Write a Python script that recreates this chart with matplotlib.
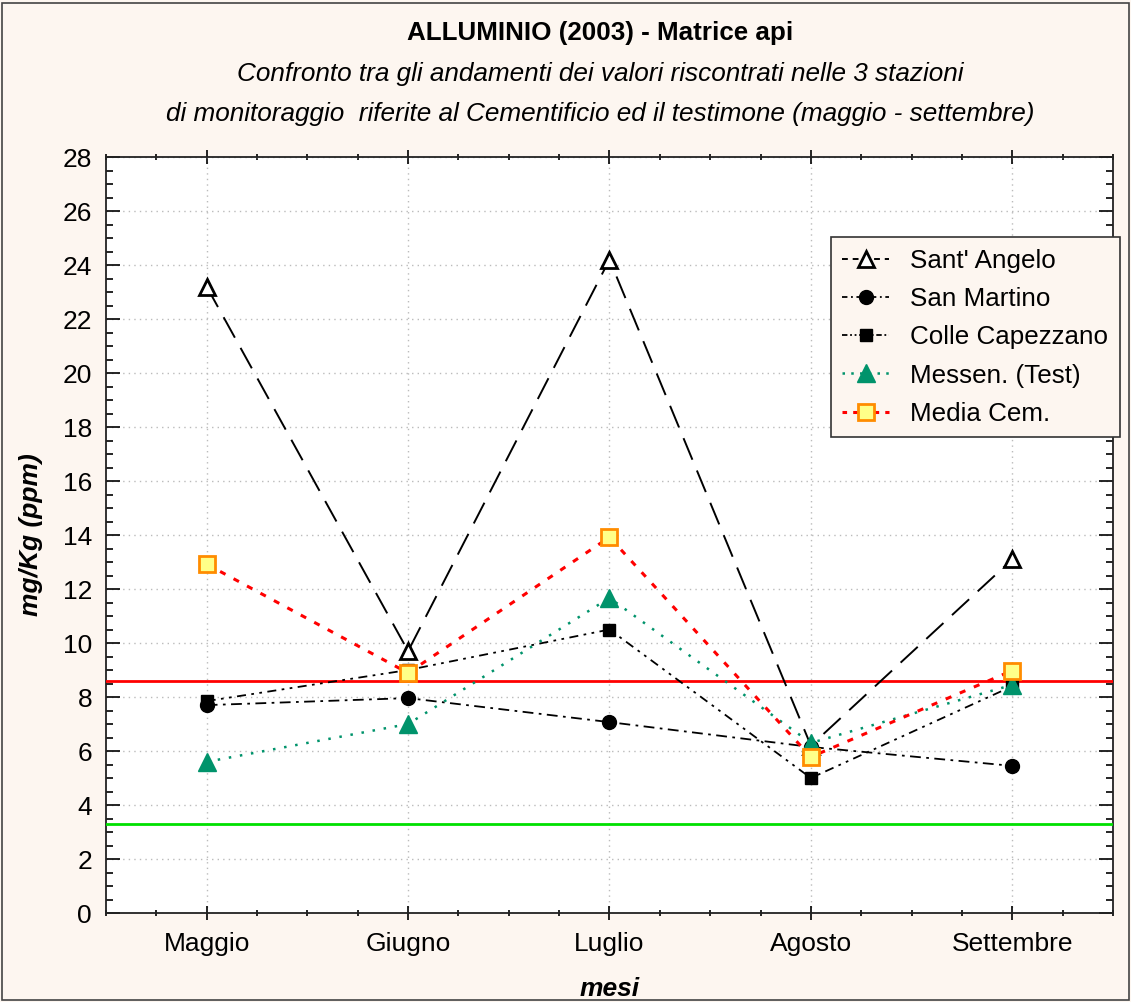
import matplotlib.pyplot as plt
from matplotlib.lines import Line2D
from matplotlib.patches import Rectangle
from matplotlib.ticker import MultipleLocator

# mesi di campionamento
months = ["Maggio", "Giugno", "Luglio", "Agosto", "Settembre"]

# valori mg/Kg (ppm)
sant_angelo = [23.2, 9.7, 24.2, 6.2, 13.1]
san_martino = [7.7, 7.96, 7.07, 6.15, 5.45]
colle_capezzano = [7.85, 9.0, 10.5, 5.0, 8.4]
messen_test = [5.6, 7.0, 11.67, 6.3, 8.45]
media_cem = [12.92, 8.89, 13.92, 5.78, 8.98]

# linee di riferimento
red_level = 8.6
green_level = 3.3

plt.rcParams['font.family'] = ['Liberation Sans', 'DejaVu Sans']

bg = '#FDF6F0'
green = '#00936B'
fig = plt.figure(figsize=(11.31, 10.02), dpi=100, facecolor=bg)
fig.patches.append(Rectangle((0.002, 0.002), 0.996, 0.995, transform=fig.transFigure,
                             fill=False, edgecolor='#444444', linewidth=1.2))
ax = fig.add_axes([0.0937, 0.0888, 0.8904, 0.7545])
ax.set_facecolor('white')

x = list(range(len(months)))

styles = {
    "sa": dict(color='black', linestyle=(0, (12, 6)), linewidth=1.4, marker='^', markersize=11,
               markerfacecolor='white', markeredgecolor='black', markeredgewidth=2),
    "sm": dict(color='black', linestyle=(0, (6, 3, 1.5, 3)), linewidth=1.3, marker='o',
               markersize=10, markerfacecolor='black'),
    "cc": dict(color='black', linestyle=(0, (5, 3, 1.5, 3, 1.5, 3)), linewidth=1.3, marker='s',
               markersize=8, markerfacecolor='black'),
    "me": dict(color=green, linestyle=(0, (1, 3.5)), linewidth=1.8, marker='^', markersize=13,
               markerfacecolor=green, markeredgecolor=green),
    "mc": dict(color='#FF0000', linestyle=(0, (2, 3)), linewidth=2.2, marker='s', markersize=12,
               markerfacecolor='#FFFF88', markeredgecolor='#FF8C00', markeredgewidth=2),
}

ax.plot(x, sant_angelo, zorder=5, **styles["sa"])
ax.plot(x, san_martino, zorder=4, **styles["sm"])
ax.plot(x, colle_capezzano, zorder=4, **styles["cc"])
ax.plot(x, messen_test, zorder=5, **styles["me"])
ax.plot(x, media_cem, zorder=6, **styles["mc"])

ax.axhline(red_level, color='#FF0000', linewidth=2, zorder=3)
ax.axhline(green_level, color='#00E000', linewidth=2, zorder=3)

ax.set_xlim(-0.5, 4.5)
ax.set_ylim(0, 28)
ax.set_xticks(x)
ax.set_xticklabels(months)
ax.yaxis.set_major_locator(MultipleLocator(2))
ax.yaxis.set_minor_locator(MultipleLocator(0.5))
ax.xaxis.set_minor_locator(MultipleLocator(0.25))
ax.tick_params(axis='both', which='both', direction='in', top=True, right=True,
               labelsize=19, width=1.2)
ax.tick_params(axis='both', which='major', length=10)
ax.tick_params(axis='both', which='minor', length=5)
ax.tick_params(axis='y', which='major', pad=10)
ax.tick_params(axis='x', which='both', direction='inout', pad=9)
ax.grid(True, which='major', color='#BBBBBB', linestyle=(0, (1, 3)), linewidth=1)
for s in ax.spines.values():
    s.set_linewidth(1.3)
    s.set_color('#222222')

ax.set_ylabel("mg/Kg (ppm)", fontsize=19, fontweight='bold', fontstyle='italic', labelpad=14)
ax.set_xlabel("mesi", fontsize=19, fontweight='bold', fontstyle='italic', labelpad=15)

fig.text(0.531, 0.967, "ALLUMINIO (2003) - Matrice api", ha='center', va='center',
         fontsize=18.7, fontweight='bold')
fig.text(0.531, 0.926, "Confronto tra gli andamenti dei valori riscontrati nelle 3 stazioni",
         ha='center', va='center', fontsize=18.8, fontstyle='italic')
fig.text(0.531, 0.886, "di monitoraggio  riferite al Cementificio ed il testimone (maggio - settembre)",
         ha='center', va='center', fontsize=18.8, fontstyle='italic')

# legend proxies with shorter dashes so the pattern is visible in the small handle
labels = ["Sant' Angelo", "San Martino", "Colle Capezzano", "Messen. (Test)", "Media Cem."]
leg_dashes = [(0, (3, 2.5)), (0, (3, 2, 1, 2)), (0, (3, 1.5, 1, 1.5, 1, 1.5)), (0, (1, 2.5)), (0, (1.5, 2))]
handles = []
for key, ls in zip(["sa", "sm", "cc", "me", "mc"], leg_dashes):
    st = dict(styles[key])
    st["linestyle"] = ls
    handles.append(Line2D([], [], **st))

leg = ax.legend(handles, labels, loc='upper right', bbox_to_anchor=(0.990, 0.7635),
                bbox_transform=fig.transFigure, fontsize=18.7, frameon=True,
                facecolor=bg, edgecolor='#333333', framealpha=1, fancybox=False,
                handlelength=1.8, handletextpad=0.8, borderpad=0.45, labelspacing=0.55,
                borderaxespad=0)
leg.get_frame().set_linewidth(1.2)
leg.set_zorder(10)

fig.savefig("out.png", dpi=100, facecolor=bg)
